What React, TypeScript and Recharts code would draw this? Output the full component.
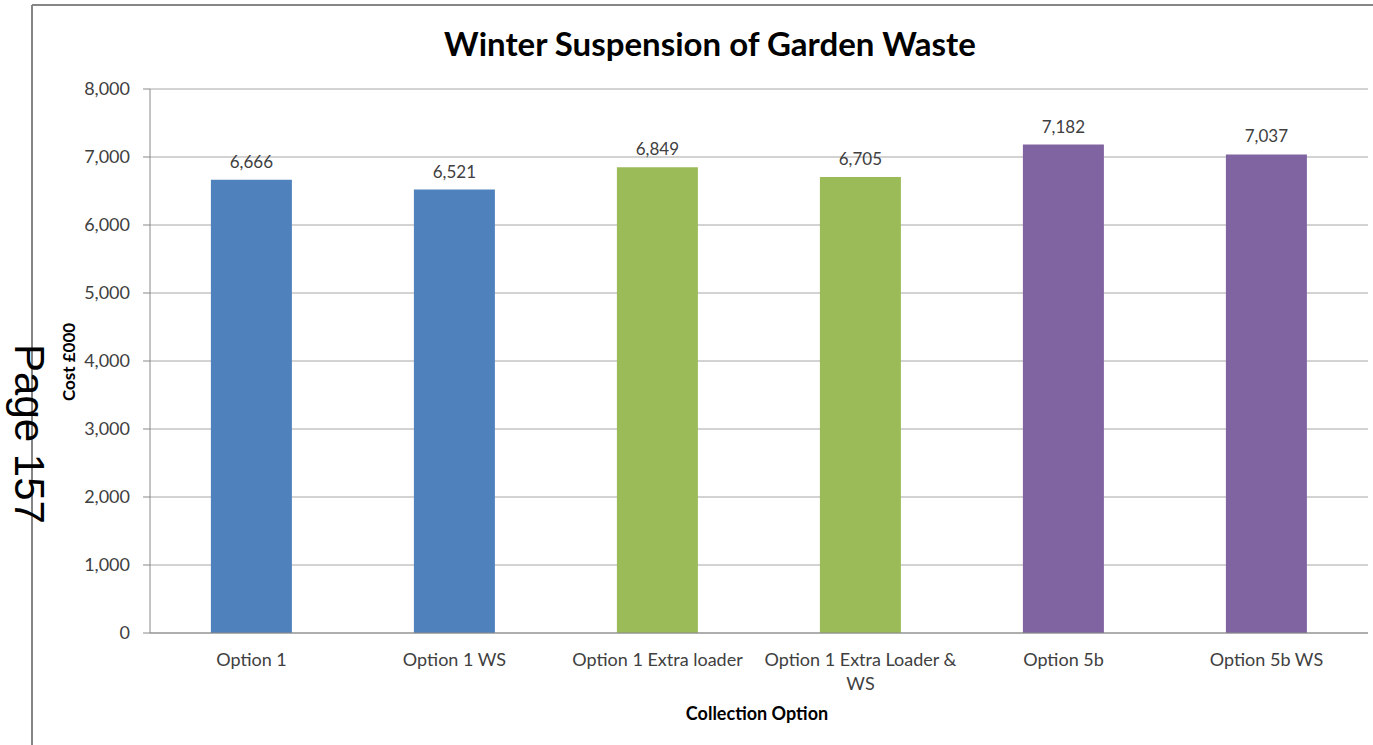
import React from 'react';
import { BarChart, Bar, XAxis, YAxis, CartesianGrid, Cell, LabelList, Text } from 'recharts';

const categories = [
  'Option 1',
  'Option 1 WS',
  'Option 1  Extra loader',
  'Option 1 Extra Loader & WS',
  'Option 5b',
  'Option 5b WS',
];
const costs = [6666, 6521, 6849, 6705, 7182, 7037];
const barColors = ['#4F81BD', '#4F81BD', '#9BBB59', '#9BBB59', '#8064A2', '#8064A2'];
const yTicks = [0, 1000, 2000, 3000, 4000, 5000, 6000, 7000, 8000];

const data = categories.map((name, i) => ({ name, value: costs[i] }));
const boundaries = [...categories.map((_, i) => i), categories.length];

const FONT = 'Lato, "Open Sans", sans-serif';
const fmt = (v: number) => v.toLocaleString('en-US');

const CategoryTick = (props: any) => {
  const { x, y, payload } = props;
  return (
    <Text
      x={x}
      y={y}
      width={200}
      textAnchor="middle"
      verticalAnchor="start"
      lineHeight={24}
      fill="#404040"
      style={{ fontFamily: FONT, fontSize: 18 }}
    >
      {payload.value}
    </Text>
  );
};

export default function App() {
  return (
    <div style={{ position: 'absolute', left: 0, top: 0, width: 1373, height: 745, background: '#fff' }}>
      <BarChart
        width={1373}
        height={745}
        data={data}
        margin={{ top: 89, right: 5, bottom: 0, left: 60 }}
        barCategoryGap="30%"
      >
        <CartesianGrid vertical={false} stroke="#a6a6a6" />
        <XAxis
          xAxisId="a"
          type="number"
          domain={[0, categories.length]}
          ticks={boundaries}
          allowDataOverflow
          height={7}
          tick={false}
          tickSize={7}
          axisLine={{ stroke: '#898989' }}
          tickLine={{ stroke: '#898989' }}
        />
        <XAxis
          xAxisId="b"
          dataKey="name"
          height={105}
          axisLine={false}
          tickLine={false}
          tickSize={0}
          tickMargin={13}
          interval={0}
          tick={<CategoryTick />}
        />
        <YAxis
          width={90}
          domain={[0, 8000]}
          ticks={yTicks}
          tickFormatter={fmt}
          tickSize={7}
          tickMargin={13}
          axisLine={{ stroke: '#898989' }}
          tickLine={{ stroke: '#898989' }}
          tick={{ fill: '#404040', fontSize: 18, fontFamily: FONT }}
        />
        <Bar dataKey="value" xAxisId="b" isAnimationActive={false}>
          {data.map((d, i) => (
            <Cell key={d.name} fill={barColors[i]} />
          ))}
          <LabelList
            dataKey="value"
            position="top"
            offset={12}
            formatter={(v: any) => fmt(Number(v))}
            style={{ fill: '#404040', fontSize: 17, fontFamily: FONT }}
          />
        </Bar>
      </BarChart>
      <svg width={1373} height={745} style={{ position: 'absolute', left: 0, top: 0, pointerEvents: 'none' }}>
        <line x1={32} y1={5} x2={1373} y2={5} stroke="#868686" strokeWidth={2} />
        <line x1={32} y1={5} x2={32} y2={745} stroke="#868686" strokeWidth={2} />
        <text x={710} y={56} textAnchor="middle" fontFamily={FONT} fontWeight="bold" fontSize={33} fill="#000">
          Winter Suspension of Garden Waste
        </text>
        <text
          transform="translate(75,362) rotate(-90)"
          textAnchor="middle"
          fontFamily={FONT}
          fontWeight="bold"
          fontSize={17}
          fill="#000"
        >
          Cost £000
        </text>
        <text x={757} y={720} textAnchor="middle" fontFamily={FONT} fontWeight="bold" fontSize={18} fill="#000">
          Collection Option
        </text>
        <text
          transform="translate(15,434) rotate(90)"
          textAnchor="middle"
          fontFamily='"Liberation Sans", Arial, sans-serif'
          fontSize={42}
          fill="#000"
        >
          Page 157
        </text>
      </svg>
    </div>
  );
}
